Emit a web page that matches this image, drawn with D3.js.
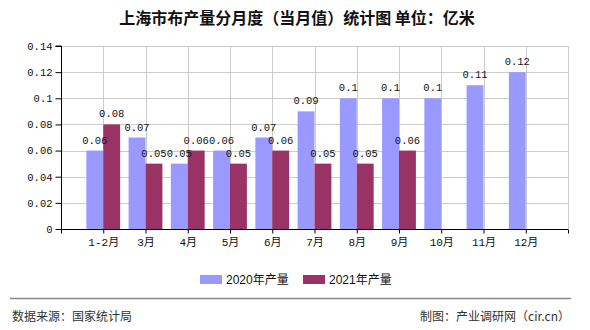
<!DOCTYPE html>
<html><head><meta charset="utf-8">
<script src="https://cdn.jsdelivr.net/npm/d3@7"></script>
<style>
html,body{margin:0;padding:0;background:#fff;}
svg{display:block;}
</style></head>
<body>
<svg id="c" width="590" height="330"></svg>
<script>
const categories = ["1-2月","3月","4月","5月","6月","7月","8月","9月","10月","11月","12月"];
const series2020 = [0.06,0.07,0.05,0.06,0.07,0.09,0.1,0.1,0.1,0.11,0.12];
const series2021 = [0.08,0.05,0.06,0.05,0.06,0.05,0.05,0.06,null,null,null];
const seriesNames = ["2020年产量","2021年产量"];
const colors = ["#9999ff","#993366"];
const yTicks = [0,0.02,0.04,0.06,0.08,0.1,0.12,0.14];
const yTickLabels = ["0","0.02","0.04","0.06","0.08","0.1","0.12","0.14"];
const title = "上海市布产量分月度（当月值）统计图 单位：亿米";
const sourceText = "数据来源：国家统计局";
const creditText = "制图：产业调研网（cir.cn）";

const svg = d3.select("#c");
const L = 61, R = 568, T = 46, B = 229;
const x = d3.scaleLinear().domain([0, categories.length + 1]).range([L, R]);
const y = d3.scaleLinear().domain([0, 0.14]).range([B, T]);
const slot = x(1) - x(0);
const bw = slot * 0.4;
const monoFont = "'Liberation Mono','DejaVu Sans Mono','Noto Sans CJK SC',monospace";

// title
svg.append("text").attr("x", 297).attr("y", 24).attr("text-anchor", "middle")
  .style("font-family", "'Noto Sans CJK SC',sans-serif").style("font-size", "16px")
  .style("font-weight", "bold").attr("fill", "#111").text(title);

// grid
const grid = svg.append("g");
grid.selectAll("line.h").data(yTicks.slice(1)).join("line")
  .attr("x1", L).attr("x2", R).attr("y1", d => Math.round(y(d)) + 0.5).attr("y2", d => Math.round(y(d)) + 0.5)
  .attr("stroke", "#cccccc").attr("stroke-width", 1);
const vt = d3.range(1, categories.length + 2);
grid.selectAll("line.v").data(vt).join("line")
  .attr("x1", d => Math.round(x(d)) + 0.5).attr("x2", d => Math.round(x(d)) + 0.5)
  .attr("y1", T).attr("y2", B)
  .attr("stroke", "#cccccc").attr("stroke-width", 1);

// bars
const g = svg.append("g");
const data = [];
categories.forEach((c, i) => {
  data.push({i, s: 0, v: series2020[i]});
  if (series2021[i] != null) data.push({i, s: 1, v: series2021[i]});
});
g.selectAll("rect").data(data).join("rect")
  .attr("x", d => d.s === 0 ? x(d.i + 1) - bw : x(d.i + 1))
  .attr("width", bw)
  .attr("y", d => y(d.v))
  .attr("height", d => y(0) - y(d.v))
  .attr("fill", d => colors[d.s]);

// value labels
g.selectAll("text.val").data(data).join("text")
  .attr("class", "val")
  .attr("x", d => d.s === 0 ? x(d.i + 1) - bw / 2 : x(d.i + 1) + bw / 2)
  .attr("y", d => y(d.v) - 7)
  .attr("text-anchor", "middle")
  .style("font-family", monoFont).style("font-size", "10.5px")
  .attr("fill", "#111")
  .text(d => String(d.v));

// y axis
const yAxis = d3.axisLeft(y).tickValues(yTicks).tickSize(6).tickPadding(3)
  .tickFormat((d, i) => yTickLabels[i]);
const ya = svg.append("g").attr("transform", `translate(${L + 0.5},0)`).call(yAxis);
ya.select(".domain").attr("stroke", "#000").attr("d", `M-6,${T}H0V${B}`);
ya.selectAll("text").style("font-family", monoFont).style("font-size", "10.5px").attr("fill", "#111");

// x axis
const xAxis = d3.axisBottom(x).tickValues(d3.range(0, categories.length + 2)).tickSize(4).tickPadding(5)
  .tickFormat(d => (d >= 1 && d <= categories.length) ? categories[d - 1] : "");
const xa = svg.append("g").attr("transform", `translate(0,${B + 0.5})`).call(xAxis);
xa.select(".domain").attr("stroke", "#000").attr("d", `M${L},0H${R}`);
xa.selectAll("text").style("font-family", monoFont).style("font-size", "11px").attr("fill", "#111");
xa.selectAll("line").attr("stroke", "#000");
ya.selectAll("line").attr("stroke", "#000");

// legend
const lg = svg.append("g");
const lx = [200, 303];
seriesNames.forEach((n, k) => {
  lg.append("rect").attr("x", lx[k]).attr("y", 275).attr("width", 22).attr("height", 9).attr("fill", colors[k]);
  lg.append("text").attr("x", lx[k] + 26).attr("y", 284)
    .style("font-family", "'Liberation Sans','Noto Sans CJK SC',sans-serif").style("font-size", "12px")
    .attr("fill", "#111").text(n);
});

// footer
svg.append("line").attr("x1", 10).attr("x2", 571).attr("y1", 298.5).attr("y2", 298.5)
  .attr("stroke", "#888").attr("stroke-width", 1.5);
svg.append("text").attr("x", 12).attr("y", 321)
  .style("font-family", "'Noto Sans CJK SC',sans-serif").style("font-size", "12px")
  .attr("fill", "#333").text(sourceText);
svg.append("text").attr("x", 570).attr("y", 321).attr("text-anchor", "end")
  .style("font-family", "'Noto Sans CJK SC',sans-serif").style("font-size", "12px")
  .attr("fill", "#333").text(creditText);
</script>
</body></html>
